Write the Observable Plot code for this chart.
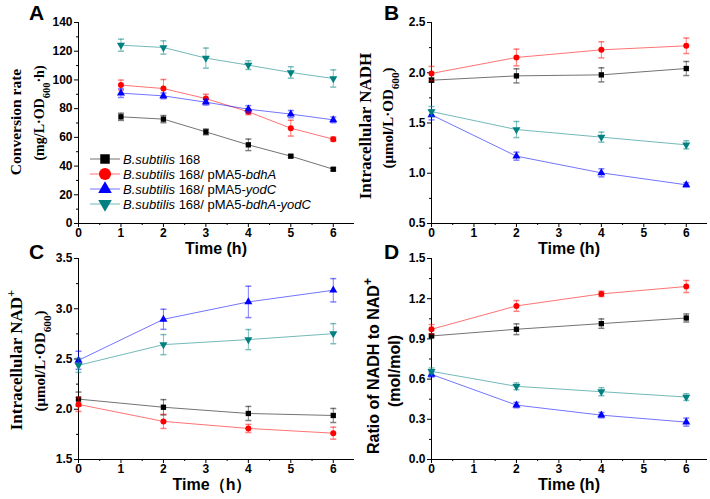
<!DOCTYPE html>
<html><head><meta charset="utf-8">
<script src="https://cdn.jsdelivr.net/npm/d3@7"></script>
<script src="https://cdn.jsdelivr.net/npm/@observablehq/plot@0.6"></script>
<style>
body{margin:0;background:#fff;}
#wrap{position:relative;width:710px;height:499px;overflow:hidden;background:#fff;}
#wrap > svg{position:absolute;}
</style></head><body><div id="wrap"></div>
<script>
// ---------- data ----------
const strains = ["168", "bdhA", "yodC", "bdhA-yodC"];
const colors = ["#000000", "#ff0000", "#0000ff", "#008080"];

const timeA = [1, 2, 3, 4, 5, 6];
const rateWT = [74.3, 72.7, 63.8, 54.8, 46.9, 37.8];
const rateWTErr = [2.5, 2.5, 2.0, 4.0, 1.0, 1.0];
const rateBdhA = [96.4, 94.0, 87.0, 77.8, 66.4, 58.7];
const rateBdhAErr = [3.5, 6.3, 3.0, 2.0, 5.5, 1.5];
const rateYodC = [90.8, 88.9, 84.5, 79.6, 76.2, 72.2];
const rateYodCErr = [3.0, 2.0, 2.0, 2.5, 2.5, 2.0];
const rateBoth = [124.2, 122.6, 115.2, 110.3, 105.2, 101.0];
const rateBothErr = [4.2, 4.6, 7.0, 3.0, 4.0, 6.0];

const timeB = [0, 2, 4, 6];
const nadhWT = [1.926, 1.969, 1.979, 2.042];
const nadhWTErr = [0.02, 0.07, 0.07, 0.07];
const nadhBdhA = [1.993, 2.152, 2.228, 2.268];
const nadhBdhAErr = [0.07, 0.083, 0.08, 0.077];
const nadhYodC = [1.581, 1.170, 1.004, 0.885];
const nadhYodCErr = [0.05, 0.04, 0.04, 0.02];
const nadhBoth = [1.614, 1.435, 1.359, 1.283];
const nadhBothErr = [0.05, 0.08, 0.05, 0.04];

const nadWT = [2.101, 2.020, 1.958, 1.938];
const nadWTErr = [0.07, 0.076, 0.07, 0.07];
const nadBdhA = [2.048, 1.879, 1.809, 1.762];
const nadBdhAErr = [0.07, 0.07, 0.04, 0.06];
const nadYodC = [2.487, 2.895, 3.068, 3.184];
const nadYodCErr = [0.09, 0.10, 0.156, 0.116];
const nadBoth = [2.437, 2.643, 2.693, 2.752];
const nadBothErr = [0.07, 0.10, 0.10, 0.10];

const ratioWT = [0.922, 0.972, 1.014, 1.056];
const ratioWTErr = [0.01, 0.04, 0.035, 0.03];
const ratioBdhA = [0.972, 1.146, 1.236, 1.291];
const ratioBdhAErr = [0.035, 0.04, 0.02, 0.045];
const ratioYodC = [0.635, 0.406, 0.331, 0.279];
const ratioYodCErr = [0.02, 0.02, 0.02, 0.03];
const ratioBoth = [0.658, 0.546, 0.506, 0.466];
const ratioBothErr = [0.025, 0.025, 0.03, 0.025];

const xTicks = [0, 1, 2, 3, 4, 5, 6];
const xMinor = [0.5, 1.5, 2.5, 3.5, 4.5, 5.5];
const yTicksA = [0, 20, 40, 60, 80, 100, 120, 140];
const yMinorA = [10, 30, 50, 70, 90, 110, 130];
const yTicksB = [0.5, 1.0, 1.5, 2.0, 2.5];
const yMinorB = [0.75, 1.25, 1.75, 2.25];
const yTicksC = [1.5, 2.0, 2.5, 3.0, 3.5];
const yMinorC = [1.75, 2.25, 2.75, 3.25];
const yTicksD = [0.0, 0.3, 0.6, 0.9, 1.2, 1.5];
const yMinorD = [0.15, 0.45, 0.75, 1.05, 1.35];

// ---------- helpers ----------
function tidy(time, series) {
  const out = [];
  series.forEach(([vals, errs], i) => {
    vals.forEach((v, j) => out.push({s: strains[i], t: time[j], v, e: errs[j]}));
  });
  return out;
}
const triangleDown = {
  draw(ctx, size) {
    const y = -Math.sqrt(size / (Math.sqrt(3) * 3));
    ctx.moveTo(0, -2 * y);
    ctx.lineTo(-Math.sqrt(3) * y, y);
    ctx.lineTo(Math.sqrt(3) * y, y);
    ctx.closePath();
  }
};
const cap = { draw(ctx) { ctx.moveTo(-3, 0); ctx.lineTo(3, 0); } };
const symbols = ["square", "circle", "triangle", triangleDown];
const d3symbols = [d3.symbolSquare, d3.symbolCircle, d3.symbolTriangle, triangleDown];

const SANS = "Arial, 'Liberation Sans', sans-serif";
const SERIF = "'Times New Roman', 'Liberation Serif', serif";

function panel(o) {
  const marks = [
    Plot.axisX({ticks: xTicks, tickSize: 4, tickPadding: 1, tickFormat: d3.format("d"), label: null}),
    Plot.axisX({ticks: xMinor, tickSize: 2, text: null, label: null}),
    Plot.axisY({ticks: o.yTicks, tickSize: 4, tickPadding: 2, tickFormat: o.fmt, label: null}),
    Plot.axisY({ticks: o.yMinor, tickSize: 2, text: null, label: null}),
    Plot.ruleX([0], {stroke: "#000"}),
    Plot.ruleY([o.yDomain[0]], {stroke: "#000"})
  ];
  strains.forEach((s, i) => {
    const d = o.data.filter(r => r.s === s);
    marks.push(
      Plot.line(d, {x: "t", y: "v", stroke: colors[i], strokeWidth: 1, strokeOpacity: 0.55}),
      Plot.ruleX(d, {x: "t", y1: r => r.v - r.e, y2: r => r.v + r.e, stroke: colors[i], strokeOpacity: 0.5}),
      Plot.dot(d, {x: "t", y: r => r.v + r.e, symbol: cap, fill: "none", stroke: colors[i], strokeOpacity: 0.5}),
      Plot.dot(d, {x: "t", y: r => r.v - r.e, symbol: cap, fill: "none", stroke: colors[i], strokeOpacity: 0.5}),
      Plot.dot(d, {x: "t", y: "v", symbol: symbols[i], r: 3, fill: colors[i], stroke: "none"})
    );
  });
  const svg = Plot.plot({
    width: 355, height: o.height,
    marginLeft: o.ml, marginRight: o.mr, marginTop: o.mt, marginBottom: o.mb,
    style: {background: "transparent", overflow: "visible", fontFamily: SANS, fontSize: "12px", fontWeight: "bold", color: "#000"},
    x: {domain: [0, 6.5]},
    y: {domain: o.yDomain},
    marks
  });
  svg.style.left = o.left + "px";
  svg.style.top = o.top + "px";
  document.getElementById("wrap").appendChild(svg);
  return d3.select(svg);
}

function ylabel(sel, x, y, font, size, parts) {
  const t = sel.append("text")
    .attr("transform", `translate(${x},${y}) rotate(-90)`)
    .attr("text-anchor", "middle").attr("dy", "0.35em")
    .attr("font-family", font).attr("font-size", size).attr("font-weight", "bold").attr("fill", "#000");
  parts.forEach(p => {
    const sp = t.append("tspan").text(p.t);
    if (p.sub) sp.attr("baseline-shift", "sub").attr("font-size", size * 0.75);
    if (p.sup) sp.attr("baseline-shift", "super").attr("font-size", size * 0.75);
  });
}
function xlabel(sel, x, y, txt) {
  sel.append("text").attr("x", x).attr("y", y).attr("text-anchor", "middle")
    .attr("font-family", SANS).attr("font-size", 16).attr("font-weight", "bold").attr("fill", "#000").text(txt);
}
function letter(sel, x, y, txt) {
  sel.append("text").attr("x", x).attr("y", y).attr("text-anchor", "start")
    .attr("font-family", SANS).attr("font-size", 21).attr("font-weight", "bold").attr("fill", "#000").text(txt);
}

// ---------- panels ----------
const A = panel({
  left: 0, top: 0, height: 262, ml: 78, mr: 1, mt: 22, mb: 39,
  yDomain: [0, 140], yTicks: yTicksA, yMinor: yMinorA, fmt: d3.format("d"),
  data: tidy(timeA, [[rateWT, rateWTErr], [rateBdhA, rateBdhAErr], [rateYodC, rateYodCErr], [rateBoth, rateBothErr]])
});
const B = panel({
  left: 355, top: 0, height: 262, ml: 76, mr: 3, mt: 22, mb: 39,
  yDomain: [0.5, 2.5], yTicks: yTicksB, yMinor: yMinorB, fmt: d3.format(".1f"),
  data: tidy(timeB, [[nadhWT, nadhWTErr], [nadhBdhA, nadhBdhAErr], [nadhYodC, nadhYodCErr], [nadhBoth, nadhBothErr]])
});
const C = panel({
  left: 0, top: 236, height: 263, ml: 78, mr: 1, mt: 22, mb: 40,
  yDomain: [1.5, 3.5], yTicks: yTicksC, yMinor: yMinorC, fmt: d3.format(".1f"),
  data: tidy(timeB, [[nadWT, nadWTErr], [nadBdhA, nadBdhAErr], [nadYodC, nadYodCErr], [nadBoth, nadBothErr]])
});
const D = panel({
  left: 355, top: 236, height: 263, ml: 76, mr: 3, mt: 22, mb: 40,
  yDomain: [0, 1.5], yTicks: yTicksD, yMinor: yMinorD, fmt: d3.format(".1f"),
  data: tidy(timeB, [[ratioWT, ratioWTErr], [ratioBdhA, ratioBdhAErr], [ratioYodC, ratioYodCErr], [ratioBoth, ratioBothErr]])
});

// labels
ylabel(A, 16, 122, SERIF, 15.5, [{t: "Conversion rate"}]);
ylabel(A, 39, 113, SERIF, 14, [{t: "(mg/L·OD"}, {t: "600", sub: true}, {t: "·h)"}]);
ylabel(B, 10, 126, SERIF, 17, [{t: "Intracellular NADH"}]);
ylabel(B, 33, 118, SERIF, 15, [{t: "(μmol/L·OD"}, {t: "600", sub: true}, {t: ")"}]);
ylabel(C, 16, 124, SERIF, 17, [{t: "Intracellular NAD"}, {t: "+", sup: true}]);
ylabel(C, 40, 125, SERIF, 15, [{t: "(μmol/L·OD"}, {t: "600", sub: true}, {t: ")"}]);
ylabel(D, 18, 130, SANS, 16, [{t: "Ratio of NADH to NAD"}, {t: "+", sup: true}]);
ylabel(D, 39, 135, SANS, 16, [{t: "(mol/mol)"}]);

xlabel(A, 216, 254, "Time (h)");
xlabel(B, 214, 254, "Time (h)");
xlabel(C, 212, 254, "Time（h）");
xlabel(D, 214, 254, "Time (h)");

letter(A, 29, 20, "A");
letter(B, 29, 20, "B");
letter(C, 29, 23, "C");
letter(D, 29, 23, "D");

// legend in panel A
const legendSizes = [90, 115, 80, 80];
const suffix = ["", "bdhA", "yodC", "bdhA-yodC"];
const lg = A.append("g").attr("font-family", SANS).attr("font-size", 13).attr("font-weight", "normal").attr("text-anchor", "start");
strains.forEach((s, i) => {
  const y = 159 + i * 15;
  lg.append("line").attr("x1", 90).attr("x2", 120).attr("y1", y).attr("y2", y)
    .attr("stroke", colors[i]).attr("stroke-opacity", 0.55);
  lg.append("path").attr("transform", `translate(105,${y})`)
    .attr("d", d3.symbol(d3symbols[i], legendSizes[i])()).attr("fill", colors[i]);
  const t = lg.append("text").attr("x", 123).attr("y", y + 4.5).attr("fill", "#000").attr("text-anchor", "start");
  t.append("tspan").attr("font-style", "italic").text("B.subtilis");
  t.append("tspan").text(i === 0 ? " 168" : " 168/ pMA5-");
  if (suffix[i]) t.append("tspan").attr("font-style", "italic").text(suffix[i]);
});
</script></body></html>
